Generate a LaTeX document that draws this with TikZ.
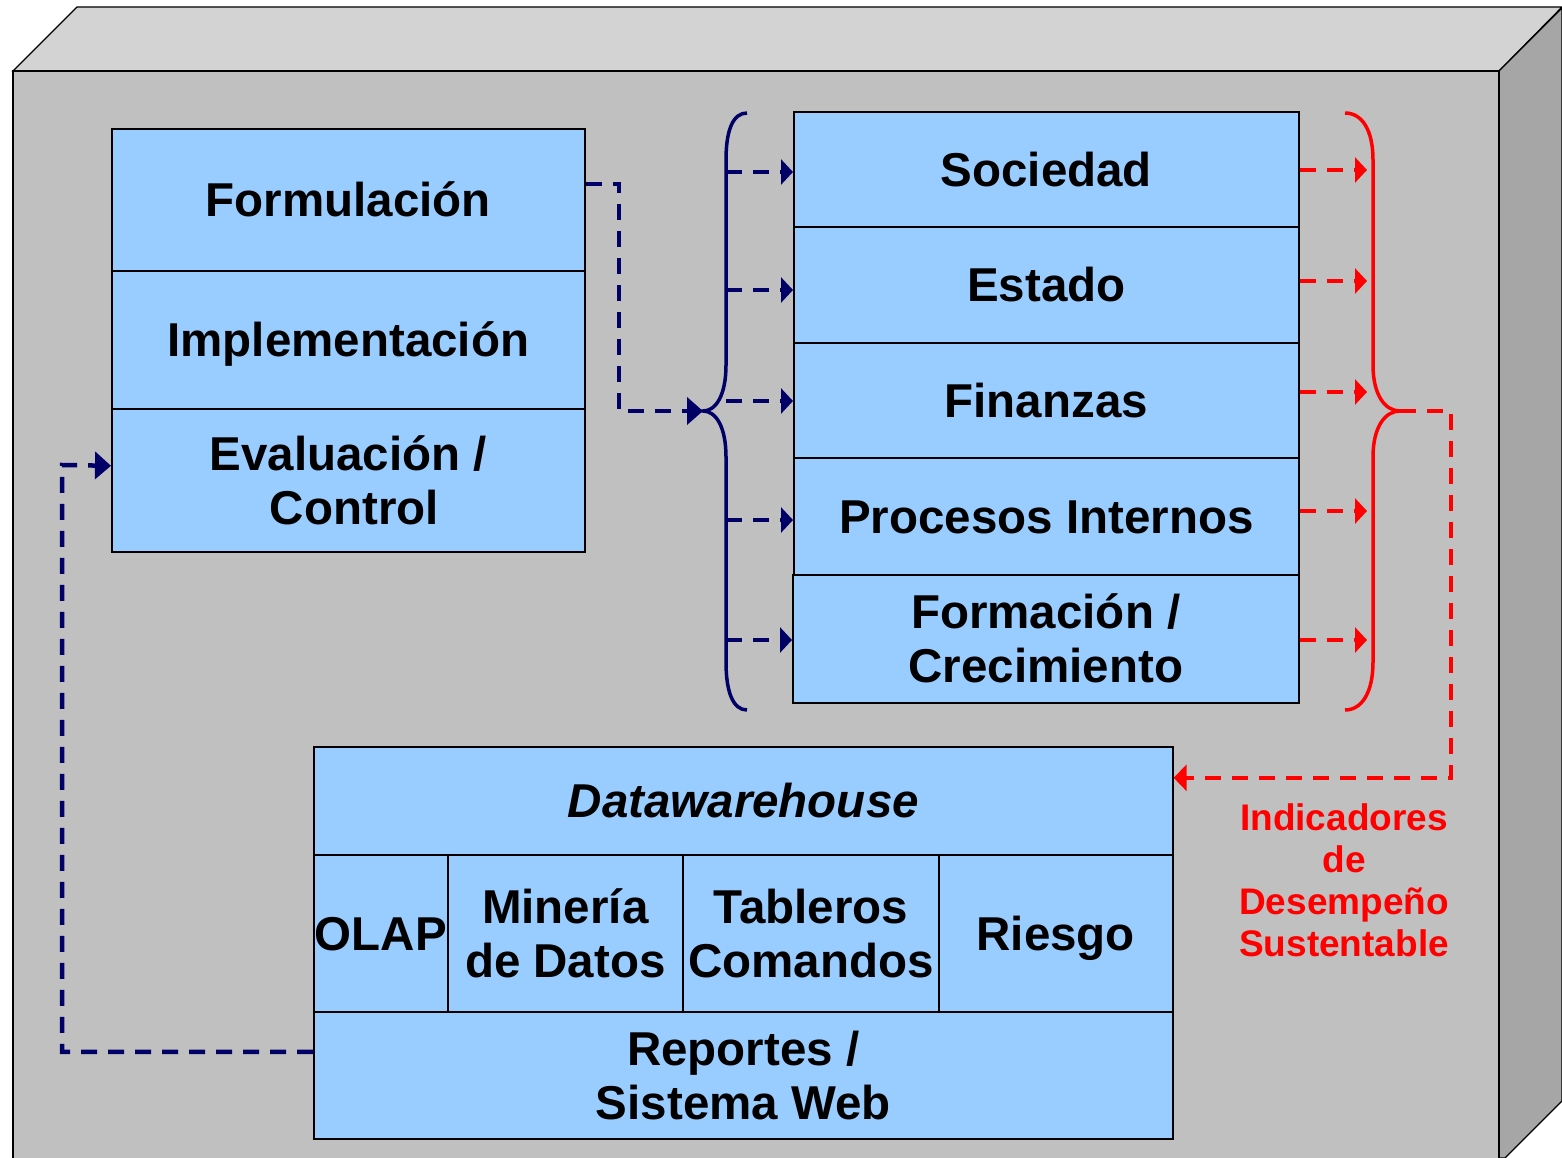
\documentclass[tikz,border=0pt]{standalone}
\usepackage{fontspec}
\setmainfont{Liberation Sans}
\usetikzlibrary{arrows.meta}
\definecolor{boxblue}{HTML}{99CCFF}
\definecolor{navyc}{HTML}{000066}
\definecolor{frontg}{HTML}{C0C0C0}
\definecolor{topg}{HTML}{D3D3D3}
\definecolor{sideg}{HTML}{A6A6A6}
\begin{document}
\begin{tikzpicture}[x=1pt,y=-1pt,
  cell/.style={draw=black, line width=1.6pt, fill=boxblue, inner sep=0pt, anchor=north west,
    align=center, font=\fontsize{47.5}{54}\selectfont\bfseries},
  oneline/.style={text height=34pt, text depth=0pt},
  dashline/.style={line width=4.5pt, dash pattern=on 16pt off 11pt},
  smallhead/.style={-{Triangle[length=12pt,width=25pt]}},
  bighead/.style={-{Triangle[length=16pt,width=27pt]}},
  blarrow/.style={draw=navyc, dashline, smallhead},
  rdarrow/.style={draw=red, dashline, smallhead},
  bluebrace/.style={draw=navyc, line width=3.5pt},
  redbrace/.style={draw=red, line width=3.5pt},
  wall/.style={draw=black, line width=1.2pt}]
\useasboundingbox (0,0) rectangle (1562,1158);
\fill[white] (0,0) rectangle (1562,1158);
% 3D box
\filldraw[fill=topg, wall] (13,71) -- (77,7) -- (1562,7) -- (1499,71) -- cycle;
\filldraw[fill=sideg, wall] (1499,71) -- (1562,8) -- (1562,1101) -- (1505,1158) -- (1499,1158) -- cycle;
\fill[frontg] (13,71) rectangle (1499,1158);
\draw[wall] (13,1158) -- (13,71) -- (1499,71) -- (1499,1158);
% left stack
\node[cell, oneline, minimum width=473pt, minimum height=142pt] (form) at (111,128) {Formulación};
\node[cell, oneline, minimum width=473pt, minimum height=138pt] (impl) at (111,270) {Implementación};
\node[cell, minimum width=473pt, minimum height=143pt] (eval) at (111,408) {Evaluación /\\\hspace*{12pt}Control};
% right stack
\node[cell, oneline, minimum width=505pt, minimum height=115pt] (soc) at (793,111) {Sociedad};
\node[cell, oneline, minimum width=505pt, minimum height=116pt] (est) at (793,226) {Estado};
\node[cell, oneline, minimum width=505pt, minimum height=115pt] (fin) at (793,342) {Finanzas};
\node[cell, oneline, minimum width=505pt, minimum height=117pt] (proc) at (793,457) {Procesos Internos};
\node[cell, minimum width=506pt, minimum height=128pt] (forc) at (792,574) {Formación /\\Crecimiento};
% bottom block
\node[cell, oneline, minimum width=859pt, minimum height=108pt, font=\fontsize{47.5}{54}\selectfont\bfseries\itshape] (dwh) at (313,746) {Datawarehouse};
\node[cell, oneline, minimum width=134pt, minimum height=157pt] (olap) at (313,854) {OLAP};
\node[cell, minimum width=235pt, minimum height=157pt] (min) at (447,854) {Minería\\de Datos};
\node[cell, minimum width=256pt, minimum height=157pt] (tab) at (682,854) {Tableros\\Comandos};
\node[cell, oneline, minimum width=234pt, minimum height=157pt] (rie) at (938,854) {Riesgo};
\node[cell, minimum width=859pt, minimum height=127pt] (rep) at (313,1011) {Reportes /\\Sistema Web};
% blue brace
\coordinate (btip) at (703,411);
\draw[bluebrace] (747,113) .. controls (733,113) and (726,130) .. (726,160) -- (726,365)
  .. controls (726,395) and (716,411) .. (btip)
  .. controls (716,411) and (726,427) .. (726,457) -- (726,662)
  .. controls (726,692) and (733,710) .. (747,710);
% red brace
\coordinate (rtip) at (1400,411);
\draw[redbrace] (1345,113) .. controls (1362,113) and (1373,130) .. (1373,160) -- (1373,365)
  .. controls (1373,395) and (1385,411) .. (rtip)
  .. controls (1385,411) and (1373,427) .. (1373,457) -- (1373,662)
  .. controls (1373,692) and (1362,710) .. (1345,710);
% blue arrows from brace
\foreach \n/\yy in {soc/172, est/290, fin/401, proc/520, forc/640}{
  \coordinate (bs\n) at (726,\yy);
  \draw[blarrow] (bs\n) -- (\n.west |- bs\n);
}
% red arrows to brace
\foreach \n/\yy in {soc/170, est/281, fin/392, proc/511, forc/640}{
  \coordinate (re\n) at (1367,\yy);
  \draw[rdarrow] (\n.east |- re\n) -- (re\n);
}
% Formulacion -> brace
\draw[draw=navyc, dashline, bighead] ([yshift=16pt]form.east) -| (619,411) -- (btip);
% Reportes -> Evaluacion
\draw[draw=navyc, dashline, bighead] ([yshift=23.5pt]rep.west) -| (62,465) -- ([yshift=14.5pt]eval.west);
% red brace -> Datawarehouse
\draw[draw=red, dashline, -{Triangle[length=13pt,width=26pt]}] (rtip) -- (1451,411) |- ([yshift=23pt]dwh.east);
% label
\node[text=red, align=center, font=\fontsize{37}{42}\selectfont\bfseries] (ind) at (1344,880)
  {Indicadores\\de\\Desempeño\\Sustentable};
\end{tikzpicture}
\end{document}
